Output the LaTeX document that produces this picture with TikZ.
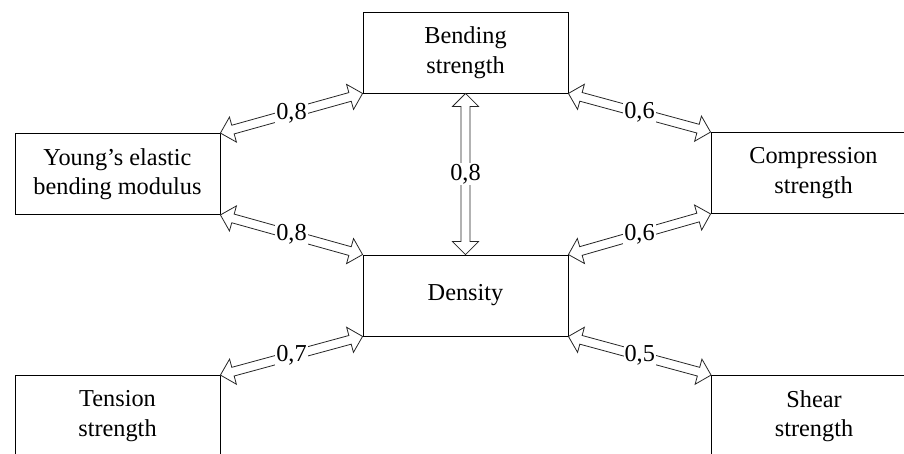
\documentclass[tikz,border=0pt]{standalone}
\usepackage{fontspec}
\setmainfont{Liberation Serif}
\usetikzlibrary{calc}

\tikzset{
  box/.style={draw=black, line width=0.85pt, minimum width=205pt, minimum height=81pt,
    align=center, inner sep=0pt, font=\fontsize{24.3pt}{29.5pt}\selectfont},
  arrowline/.style={draw=black!85, line width=0.8pt, fill=white, line join=miter},
  lbl/.style={fill=white, inner sep=1pt, font=\fontsize{24.3pt}{28pt}\selectfont}
}

% open two-headed block arrow between two points, with a label at its middle
\newcommand\blockarrow[3]{%
  \path[arrowline] let \p1=(#1), \p2=(#2),
      \n1={atan2(\y2-\y1,\x2-\x1)},
      \n2={veclen(\x2-\x1,\y2-\y1)} in
    [shift={(\p1)}, rotate=\n1]
    (0pt,0pt) -- (13pt,13pt) -- (13pt,4.5pt) -- (\n2-13pt,4.5pt) -- (\n2-13pt,13pt)
    -- (\n2,0pt) -- (\n2-13pt,-13pt) -- (\n2-13pt,-4.5pt) -- (13pt,-4.5pt)
    -- (13pt,-13pt) -- cycle;
  \node[lbl] at ($(#1)!0.5!(#2)$) {#3};
}

\begin{document}
\begin{tikzpicture}[x=1pt, y=-1pt]
  \useasboundingbox (0,0) rectangle (904,453);

  \node[box] (bend)  at (465.5, 52.5) {Bending\\strength};
  \node[box] (young) at (117.5,174)   {Young’s elastic\\bending modulus};
  \node[box] (comp)  at (813.5,173)   {Compression\\strength};
  \node[box] (dens)  at (465.5,295.5) {Density};
  \node[box] (tens)  at (117.5,416)   {Tension\\strength};
  \node[box] (shear) at (814,416)     {Shear\\strength};

  \blockarrow{bend.south west}{young.north east}{0,8}
  \blockarrow{young.south east}{dens.north west}{0,8}
  \blockarrow{dens.south west}{tens.north east}{0,7}
  \blockarrow{bend.south east}{comp.north west}{0,6}
  \blockarrow{dens.north east}{comp.south west}{0,6}
  \blockarrow{dens.south east}{shear.north west}{0,5}
  \blockarrow{bend.south}{dens.north}{0,8}
\end{tikzpicture}
\end{document}
